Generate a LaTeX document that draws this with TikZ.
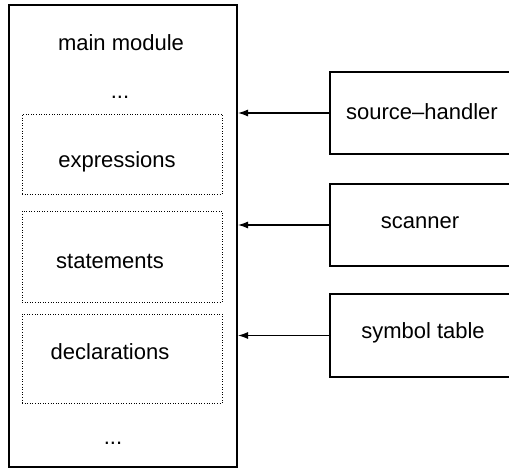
\documentclass[tikz,border=0pt]{standalone}
\usepackage{fontspec}
\setmainfont{Liberation Sans}
\usetikzlibrary{arrows.meta}
\begin{document}
\begin{tikzpicture}[x=1pt,y=-1pt,
  lbl/.style={font=\fontsize{22}{26}\selectfont, inner sep=0pt},
  mainbox/.style={draw, line width=2pt, minimum width=228pt, minimum height=462pt, inner sep=0pt},
  subbox/.style={draw, dotted, line width=0.6pt, minimum width=200pt, inner sep=0pt},
  extbox/.style={draw, line width=1.4pt, minimum width=195pt, inner sep=0pt},
  conn/.style={line width=1.3pt, -{Latex[length=10pt,width=7pt]}}]
\useasboundingbox (0,0) rectangle (509,470);
\clip (0,0) rectangle (509,470);
\node[mainbox] (main) at (123,236) {};
\node[subbox, minimum height=80pt] (expr) at (122,154) {};
\node[subbox, minimum height=91pt] (stmt) at (122,256.5) {};
\node[subbox, minimum height=89pt] (decl) at (122,358.5) {};
\node[lbl] (mtitle) at (121,43) {main module};
\node[lbl] (dtop) at (120,97) {...};
\node[lbl] (dbot) at (113,443) {...};
\node[lbl] (tex) at (117,162) {expressions};
\node[lbl] (tst) at (110,261) {statements};
\node[lbl] (tde) at (110,352) {declarations};
\node[extbox, minimum height=82pt] (src) at (427.5,113) {};
\node[extbox, minimum height=82pt] (scn) at (427.5,225) {};
\node[extbox, minimum height=83pt] (sym) at (427.5,335.5) {};
\node[lbl] (tsrc) at (422,112) {source–handler};
\node[lbl] (tscn) at (420,223) {scanner};
\node[lbl] (tsym) at (423,333) {symbol table};
\draw[conn] (src.west) -- (src.west -| main.east);
\draw[conn] (scn.west) -- (scn.west -| main.east);
\draw[conn] (sym.west) -- (sym.west -| main.east);
\end{tikzpicture}
\end{document}
